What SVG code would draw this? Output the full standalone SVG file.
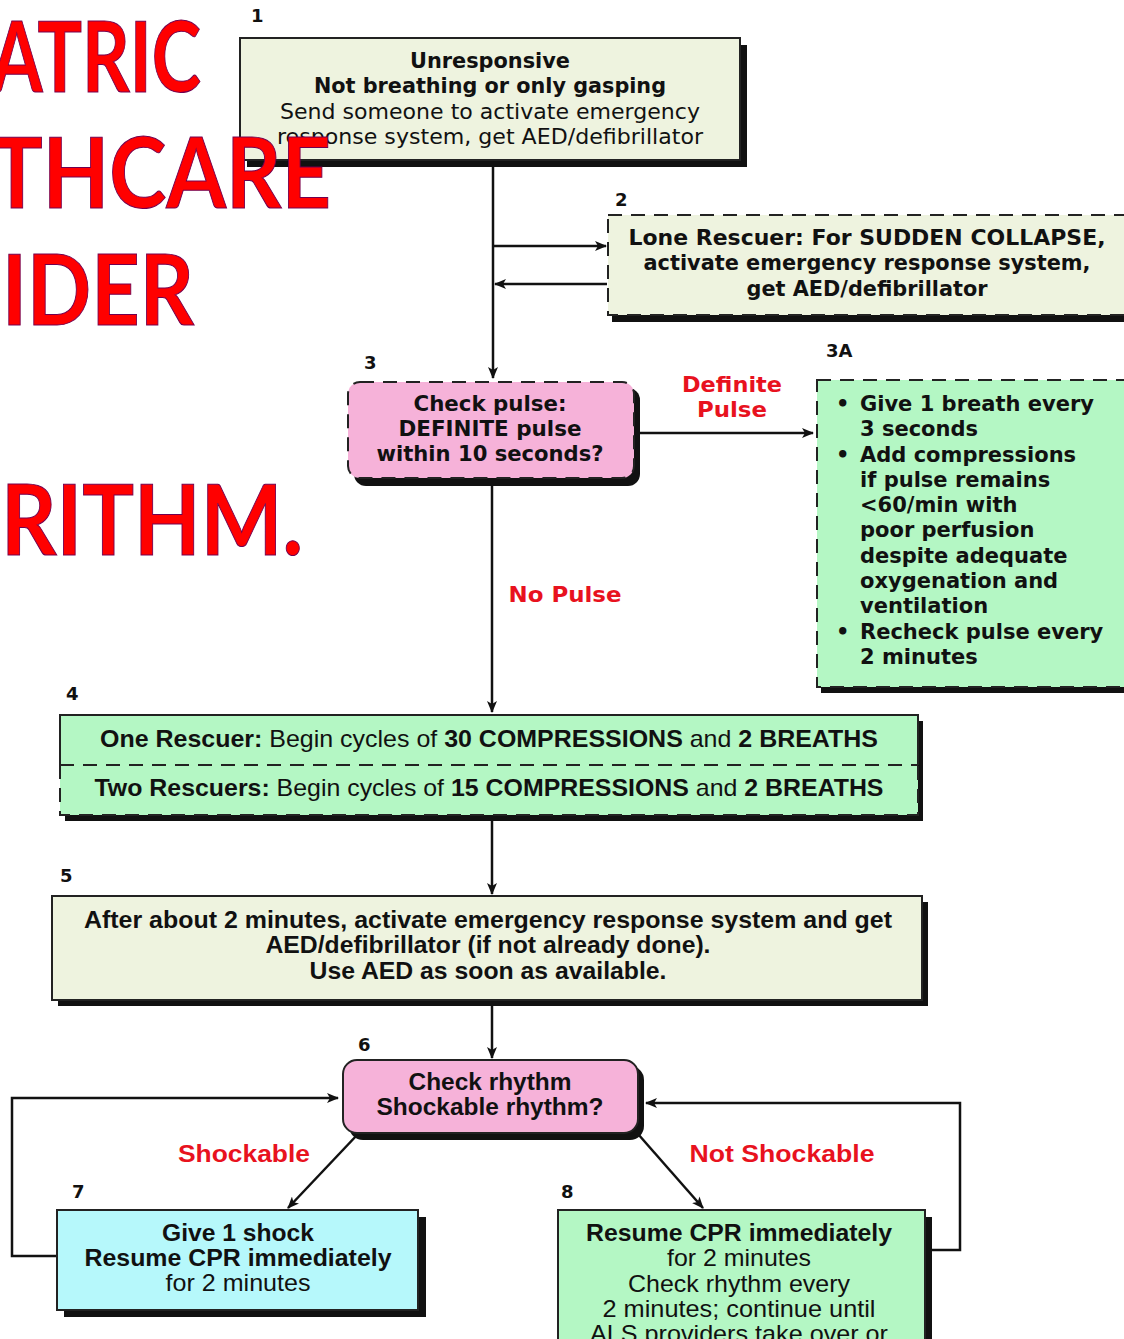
<svg xmlns="http://www.w3.org/2000/svg" width="1124" height="1339" viewBox="0 0 1124 1339">
<style>
.t{font-family:"DejaVu Sans","Liberation Sans",Arial,sans-serif;fill:#111;text-anchor:middle}
.w{font-size:21px}
.r{font-size:21.5px}
.b{font-weight:bold}
.n{font-family:"Liberation Sans Narrow","Liberation Sans",Arial,sans-serif;font-size:24px;fill:#111;text-anchor:middle}
.lbl{font-family:"DejaVu Sans","Liberation Sans",sans-serif;font-weight:bold;font-size:18px;fill:#111}
.red{font-family:"DejaVu Sans","Liberation Sans",Arial,sans-serif;font-weight:bold;font-size:21px;fill:#e8121e;text-anchor:middle}
.redn{font-family:"Liberation Sans",Arial,sans-serif;font-weight:bold;font-size:24px;fill:#e8121e;text-anchor:middle}
.title{font-family:Lato,"DejaVu Sans",sans-serif;font-weight:bold;font-size:97px;fill:#ff0000;stroke:#700050;stroke-width:1;text-anchor:end}
.sh{fill:#111}
.box{stroke:#222;stroke-width:2}
.dash{stroke-dasharray:14 9}
.beige{fill:#eef3df}
.pink{fill:#f6b2d9}
.green{fill:#b4f7c4}
.cyan{fill:#b6f8fb}
.ln{stroke:#111;stroke-width:2.5;fill:none}
</style>
<defs>
<marker id="ah" viewBox="0 0 12 10" refX="11" refY="5" markerWidth="12" markerHeight="10" markerUnits="userSpaceOnUse" orient="auto">
<path d="M0,0 L12,5 L0,10 L3,5 Z" fill="#111"/>
</marker>
</defs>
<rect width="1124" height="1339" fill="#ffffff"/>

<g id="connectors">
<line class="ln" x1="493" y1="160" x2="493" y2="378" marker-end="url(#ah)"/>
<line class="ln" x1="493" y1="246" x2="606" y2="246" marker-end="url(#ah)"/>
<line class="ln" x1="607" y1="284" x2="495" y2="284" marker-end="url(#ah)"/>
<line class="ln" x1="634" y1="433" x2="813" y2="433" marker-end="url(#ah)"/>
<line class="ln" x1="492" y1="484" x2="492" y2="712" marker-end="url(#ah)"/>
<line class="ln" x1="492" y1="820" x2="492" y2="894" marker-end="url(#ah)"/>
<line class="ln" x1="492" y1="1006" x2="492" y2="1058" marker-end="url(#ah)"/>
<line class="ln" x1="358" y1="1134" x2="288" y2="1208" marker-end="url(#ah)"/>
<line class="ln" x1="638" y1="1134" x2="703" y2="1208" marker-end="url(#ah)"/>
<polyline class="ln" points="57,1256 12,1256 12,1098 338,1098" marker-end="url(#ah)"/>
<polyline class="ln" points="930,1250 960,1250 960,1103 646,1103" marker-end="url(#ah)"/>
<text class="red" x="732" y="392" textLength="100" lengthAdjust="spacingAndGlyphs">Definite</text>
<text class="red" x="732" y="417" textLength="70" lengthAdjust="spacingAndGlyphs">Pulse</text>
<text class="red" x="565" y="602" textLength="113" lengthAdjust="spacingAndGlyphs">No Pulse</text>
<text class="redn" x="244" y="1162" textLength="132" lengthAdjust="spacingAndGlyphs">Shockable</text>
<text class="redn" x="782" y="1162" textLength="185" lengthAdjust="spacingAndGlyphs">Not Shockable</text>
</g>

<g id="node1">
<rect class="sh" x="247" y="45" width="500" height="122"/>
<rect class="box beige" x="240" y="38" width="500" height="122"/>
<text class="lbl" x="251" y="22">1</text>
<text class="t w b" x="490" y="68" textLength="160" lengthAdjust="spacingAndGlyphs">Unresponsive</text>
<text class="t w b" x="490" y="93" textLength="352" lengthAdjust="spacingAndGlyphs">Not breathing or only gasping</text>
<text class="t r" x="490" y="119" textLength="420" lengthAdjust="spacingAndGlyphs">Send someone to activate emergency</text>
<text class="t r" x="490" y="144" textLength="426" lengthAdjust="spacingAndGlyphs">response system, get AED/defibrillator</text>
</g>

<g id="node2">
<rect class="sh" x="612" y="222" width="530" height="100"/>
<rect class="box beige dash" x="608" y="215" width="530" height="100"/>
<text class="lbl" x="615" y="206">2</text>
<text class="t w b" x="867" y="245" textLength="477" lengthAdjust="spacingAndGlyphs">Lone Rescuer: For SUDDEN COLLAPSE,</text>
<text class="t w b" x="867" y="270" textLength="447" lengthAdjust="spacingAndGlyphs">activate emergency response system,</text>
<text class="t w b" x="867" y="296" textLength="241" lengthAdjust="spacingAndGlyphs">get AED/defibrillator</text>
</g>

<g id="node3">
<rect class="sh" x="354" y="388" width="286" height="98" rx="12"/>
<rect class="box pink dash" x="348" y="382" width="286" height="96" rx="12"/>
<text class="lbl" x="364" y="369">3</text>
<text class="t w b" x="490" y="411" textLength="153" lengthAdjust="spacingAndGlyphs">Check pulse:</text>
<text class="t w b" x="490" y="436" textLength="183" lengthAdjust="spacingAndGlyphs">DEFINITE pulse</text>
<text class="t w b" x="490" y="461" textLength="227" lengthAdjust="spacingAndGlyphs">within 10 seconds?</text>
</g>

<g id="node3A">
<rect class="sh" x="821" y="386" width="320" height="307"/>
<rect class="box green dash" x="817" y="380" width="320" height="307"/>
<text class="lbl" x="826" y="357">3A</text>
<g class="t w b" style="text-anchor:start">
<text x="836" y="411">•</text>
<text x="860" y="411">Give 1 breath every</text>
<text x="860" y="436">3 seconds</text>
<text x="836" y="462">•</text>
<text x="860" y="462">Add compressions</text>
<text x="860" y="487">if pulse remains</text>
<text x="860" y="512">&lt;60/min with</text>
<text x="860" y="537">poor perfusion</text>
<text x="860" y="563">despite adequate</text>
<text x="860" y="588">oxygenation and</text>
<text x="860" y="613">ventilation</text>
<text x="836" y="639">•</text>
<text x="860" y="639">Recheck pulse every</text>
<text x="860" y="664">2 minutes</text>
</g>
</g>

<g id="node4">
<rect class="sh" x="65" y="721" width="858" height="100"/>
<rect class="green" x="60" y="715" width="858" height="100"/>
<polyline class="box" fill="none" points="60,765 60,715 918,715 918,765"/>
<polyline class="box dash" fill="none" points="60,765 60,815 918,815 918,765"/>
<line class="box dash" x1="60" y1="765" x2="918" y2="765"/>
<text class="lbl" x="66" y="700">4</text>
<text class="n" x="489" y="747" textLength="778" lengthAdjust="spacingAndGlyphs"><tspan class="b">One Rescuer:</tspan> Begin cycles of <tspan class="b">30 COMPRESSIONS</tspan> and <tspan class="b">2 BREATHS</tspan></text>
<text class="n" x="489" y="796" textLength="789" lengthAdjust="spacingAndGlyphs"><tspan class="b">Two Rescuers:</tspan> Begin cycles of <tspan class="b">15 COMPRESSIONS</tspan> and <tspan class="b">2 BREATHS</tspan></text>
</g>

<g id="node5">
<rect class="sh" x="58" y="902" width="870" height="104"/>
<rect class="box beige" x="52" y="896" width="870" height="104"/>
<text class="lbl" x="60" y="882">5</text>
<text class="n b" x="488" y="928" textLength="808" lengthAdjust="spacingAndGlyphs">After about 2 minutes, activate emergency response system and get</text>
<text class="n b" x="488" y="953" textLength="445" lengthAdjust="spacingAndGlyphs">AED/defibrillator (if not already done).</text>
<text class="n b" x="488" y="979" textLength="357" lengthAdjust="spacingAndGlyphs">Use AED as soon as available.</text>
</g>

<g id="node6">
<rect class="sh" x="349" y="1066" width="295" height="74" rx="14"/>
<rect class="box pink" x="343" y="1060" width="295" height="73" rx="14"/>
<text class="lbl" x="358" y="1051">6</text>
<text class="n b" x="490" y="1090" textLength="163" lengthAdjust="spacingAndGlyphs">Check rhythm</text>
<text class="n b" x="490" y="1115" textLength="227" lengthAdjust="spacingAndGlyphs">Shockable rhythm?</text>
</g>

<g id="node7">
<rect class="sh" x="64" y="1217" width="362" height="100"/>
<rect class="box cyan" x="57" y="1210" width="361" height="100"/>
<text class="lbl" x="72" y="1198">7</text>
<text class="n b" x="238" y="1241" textLength="152" lengthAdjust="spacingAndGlyphs">Give 1 shock</text>
<text class="n b" x="238" y="1266" textLength="307" lengthAdjust="spacingAndGlyphs">Resume CPR immediately</text>
<text class="n" x="238" y="1291" textLength="145" lengthAdjust="spacingAndGlyphs">for 2 minutes</text>
</g>

<g id="node8">
<rect class="sh" x="565" y="1217" width="367" height="140"/>
<rect class="box green" x="558" y="1210" width="367" height="140"/>
<text class="lbl" x="561" y="1198">8</text>
<text class="n b" x="739" y="1241" textLength="306" lengthAdjust="spacingAndGlyphs">Resume CPR immediately</text>
<text class="n" x="739" y="1266" textLength="144" lengthAdjust="spacingAndGlyphs">for 2 minutes</text>
<text class="n" x="739" y="1292" textLength="222" lengthAdjust="spacingAndGlyphs">Check rhythm every</text>
<text class="n" x="739" y="1317" textLength="273" lengthAdjust="spacingAndGlyphs">2 minutes; continue until</text>
<text class="n" x="739" y="1342" textLength="298" lengthAdjust="spacingAndGlyphs">ALS providers take over or</text>
</g>

<g id="title">
<text class="title" x="201" y="92" textLength="210" lengthAdjust="spacingAndGlyphs">ATRIC</text>
<text class="title" x="331" y="208" textLength="340" lengthAdjust="spacingAndGlyphs">THCARE</text>
<text class="title" x="194" y="325" textLength="192" lengthAdjust="spacingAndGlyphs">IDER</text>
<text class="title" x="303" y="555" textLength="302" lengthAdjust="spacingAndGlyphs">RITHM.</text>
</g>
</svg>
